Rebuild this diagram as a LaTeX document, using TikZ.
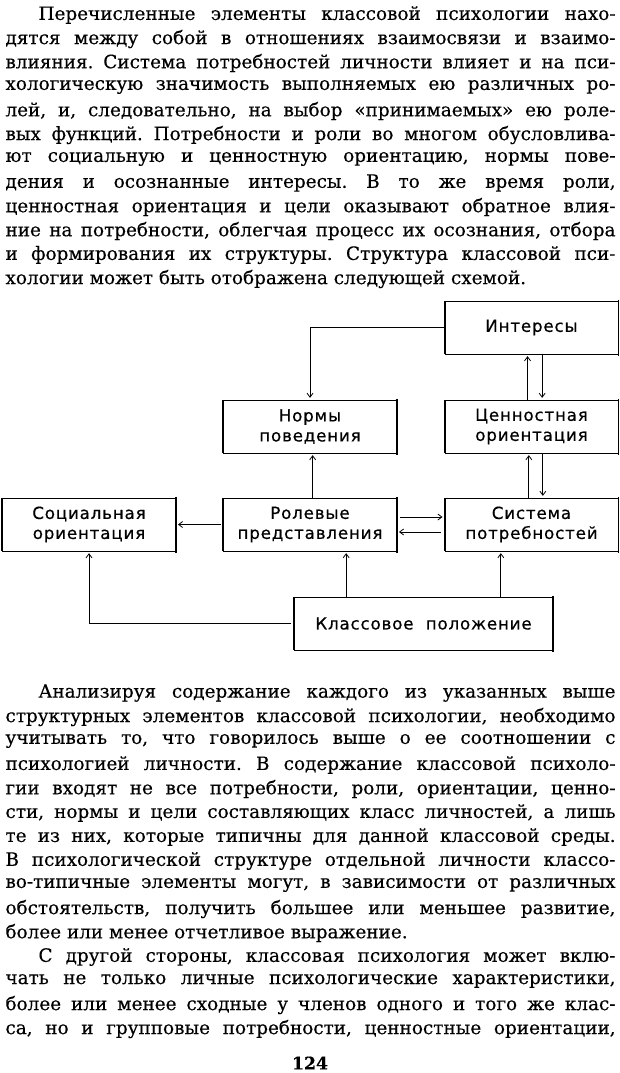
\documentclass[tikz,border=0pt]{standalone}
\usepackage{fontspec}
\setmainfont{DejaVu Serif}[FakeBold=0.3]
\newfontfamily\schemefont{DejaVu Sans}[LetterSpace=5, FakeBold=0.5]
\usetikzlibrary{arrows.meta}

\frenchspacing
\newcommand\polnaya[1]{\makebox[457.5pt][s]{#1}}
\newcommand\krasnaya[1]{\makebox[432.75pt][s]{#1}}

\tikzset{every picture/.style={line width=0.75pt}}
\tikzset{
  blok/.style={draw, line width=0.5pt, minimum width=130pt, minimum height=39.5pt, inner sep=2pt,
    align=center, font=\schemefont\fontsize{12.5pt}{15pt}\selectfont},
  strela/.style={-{Straight Barb[length=3pt,width=4.5pt]}, line width=0.6pt, shorten >=1.5pt},
  stroka/.style={anchor=west, inner sep=0pt, font=\fontsize{13.8pt}{18pt}\selectfont},
}

\begin{document}
\begin{tikzpicture}[x=0.75pt,y=0.75pt,yscale=-1,xscale=1]
	\useasboundingbox (0,0) rectangle (620,1073);
	\fill[white] (0,0) rectangle (620,1073);

	% Text: first paragraph
	\node[stroka] (a1) at (38,15) {\krasnaya{Перечисленные элементы классовой психологии нахо-}};
	\node[stroka] (a2) at (5,39) {\polnaya{дятся между собой в отношениях взаимосвязи и взаимо-}};
	\node[stroka] (a3) at (5,63) {\polnaya{влияния. Система потребностей личности влияет и на пси-}};
	\node[stroka] (a4) at (5,87) {\polnaya{хологическую значимость выполняемых ею различных ро-}};
	\node[stroka] (a5) at (5,111) {\polnaya{лей, и, следовательно, на выбор «принимаемых» ею роле-}};
	\node[stroka] (a6) at (5,135) {\polnaya{вых функций. Потребности и роли во многом обусловлива-}};
	\node[stroka] (a7) at (5,159) {\polnaya{ют социальную и ценностную ориентацию, нормы пове-}};
	\node[stroka] (a8) at (5,183) {\polnaya{дения и осознанные интересы. В то же время роли,}};
	\node[stroka] (a9) at (5,207) {\polnaya{ценностная ориентация и цели оказывают обратное влия-}};
	\node[stroka] (a10) at (5,231) {\polnaya{ние на потребности, облегчая процесс их осознания, отбора}};
	\node[stroka] (a11) at (5,255) {\polnaya{и формирования их структуры. Структура классовой пси-}};
	\node[stroka] (a12) at (5,279) {хологии может быть отображена следующей схемой.};

	% Scheme: boxes
	\node[blok] (intr) at (531.5,327.5) {Интересы};
	\node[blok] (norm) at (310,426.5) {Нормы\\поведения};
	\node[blok] (cen) at (531.5,426.5) {Ценностная\\ориентация};
	\node[blok] (soc) at (89,524.5) {Социальная\\ориентация};
	\node[blok] (rol) at (310,524.5) {Ролевые\\представления};
	\node[blok] (sys) at (531.5,524.5) {Система\\потребностей};
	\node[blok, minimum width=194pt] (kl) at (423.5,623.5) {Классовое\ \ положение};
	% heavier box sides
	\foreach \b in {intr,norm,cen,soc,rol,sys,kl}
	  \draw[line width=1.1pt, shorten <=-1pt, shorten >=-1pt] (\b.north west) -- (\b.south west)
	    (\b.north east) -- (\b.south east);

	% Scheme: connectors
	\draw[strela] (intr.west) -| (norm.north);
	\draw[strela] ([xshift=-3pt]cen.north) -- ([xshift=-3pt]intr.south);
	\draw[strela] ([xshift=8pt]intr.south) -- ([xshift=8pt]cen.north);
	\draw[strela] ([xshift=-2pt]sys.north) -- ([xshift=-2pt]cen.south);
	\draw[strela] ([xshift=8.5pt]cen.south) -- ([xshift=8.5pt]sys.north);
	\draw[strela] ([xshift=2pt]rol.north) -- ([xshift=2pt]norm.south);
	\draw[strela, shorten <=1.5pt] (rol.west) -- (soc.east);
	\draw[strela, shorten <=2.5pt] ([yshift=-5.6pt]rol.east) -- ([yshift=-5.6pt]sys.west);
	\draw[strela, shorten <=2.5pt] ([yshift=5.6pt]sys.west) -- ([yshift=5.6pt]rol.east);
	\coordinate (k1) at ([xshift=-58pt]kl.north);
	\coordinate (k2) at ([xshift=58pt]kl.north);
	\draw[strela] (k1) -- (k1 |- rol.south);
	\draw[strela] (k2) -- (k2 |- sys.south);
	\draw[strela, shorten <=2pt] (kl.west) -| (soc.south);

	% Text: second paragraph
	\node[stroka] (b1) at (38,693) {\krasnaya{Анализируя содержание каждого из указанных выше}};
	\node[stroka] (b2) at (5,717) {\polnaya{структурных элементов классовой психологии, необходимо}};
	\node[stroka] (b3) at (5,741) {\polnaya{учитывать то, что говорилось выше о ее соотношении с}};
	\node[stroka] (b4) at (5,765) {\polnaya{психологией личности. В содержание классовой психоло-}};
	\node[stroka] (b5) at (5,789) {\polnaya{гии входят не все потребности, роли, ориентации, ценно-}};
	\node[stroka] (b6) at (5,813) {\polnaya{сти, нормы и цели составляющих класс личностей, а лишь}};
	\node[stroka] (b7) at (5,837) {\polnaya{те из них, которые типичны для данной классовой среды.}};
	\node[stroka] (b8) at (5,861) {\polnaya{В психологической структуре отдельной личности классо-}};
	\node[stroka] (b9) at (5,885) {\polnaya{во-типичные элементы могут, в зависимости от различных}};
	\node[stroka] (b10) at (5,909) {\polnaya{обстоятельств, получить большее или меньшее развитие,}};
	\node[stroka] (b11) at (5,933) {более или менее отчетливое выражение.};

	% Text: third paragraph
	\node[stroka] (c1) at (38,957) {\krasnaya{С другой стороны, классовая психология может вклю-}};
	\node[stroka] (c2) at (5,981) {\polnaya{чать не только личные психологические характеристики,}};
	\node[stroka] (c3) at (5,1005) {\polnaya{более или менее сходные у членов одного и того же клас-}};
	\node[stroka] (c4) at (5,1029) {\polnaya{са, но и групповые потребности, ценностные ориентации,}};

	% page number
	\node[font=\bfseries\fontsize{13pt}{15pt}\selectfont] (nomer) at (310,1063) {124};

\end{tikzpicture}
\end{document}
